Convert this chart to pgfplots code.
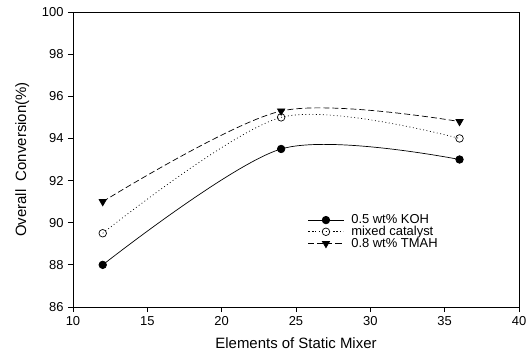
\documentclass[border=0pt]{standalone}
\usepackage{pgfplots}
\pgfplotsset{compat=1.18}
\usepackage{fontspec}
\setmainfont{Liberation Sans}
\begin{document}
\begin{tikzpicture}
\useasboundingbox (-73bp,-49bp) rectangle (456bp,307bp);
\begin{axis}[
  scale only axis,
  width=446bp, height=295bp,
  xmin=10, xmax=40, ymin=86, ymax=100,
  xtick={10,15,...,40}, ytick={86,88,...,100},
  tick align=outside, tick pos=left,
  major tick length=5bp,
  axis line style={line width=0.8pt},
  tick style={line width=0.8pt, black},
  /pgf/number format/assume math mode=true,
  tick label style={font=\fontsize{13}{15}\selectfont},
  label style={font=\fontsize{15}{17}\selectfont},
  xticklabel style={yshift=-1bp},
  yticklabel style={xshift=-1bp},
  xlabel={Elements of Static Mixer},
  ylabel={Overall\ \ Conversion(\%)},
  xlabel style={at={(axis description cs:0.5,0)}, anchor=center, yshift=-36bp},
  ylabel style={at={(axis description cs:-0.114,0.5)}, anchor=center},
  legend style={draw=none, fill=none, at={(0.52,0.325)}, anchor=north west,
     font=\fontsize{13}{15}\selectfont, row sep=-2bp,
     nodes={inner sep=1.5bp},
     /tikz/every odd column/.append style={column sep=6bp}},
  legend cell align=left,
  legend image code/.code={\draw[mark repeat=2,mark phase=2] plot coordinates {(0bp,0bp) (17.5bp,0bp) (35bp,0bp)};},
]
\addplot[black, line width=0.7pt, smooth, mark=*, mark size=3.8pt, mark options={solid}]
  coordinates {(12,88) (24,93.5) (36,93)};
\addlegendentry{0.5 wt\% KOH}
\addplot[black, line width=0.7pt, dash pattern=on 0.9bp off 2.6bp, smooth, mark=o, mark size=3.8pt, mark options={solid, fill=white}]
  coordinates {(12,89.5) (24,95) (36,94)};
\addlegendentry{mixed catalyst}
\addplot[black, line width=0.7pt, dash pattern=on 6bp off 3bp, smooth, mark=triangle*, mark size=4.2pt, mark options={solid, rotate=180}]
  coordinates {(12,91) (24,95.3) (36,94.8)};
\addlegendentry{0.8 wt\% TMAH}
\end{axis}
\end{tikzpicture}
\end{document}
